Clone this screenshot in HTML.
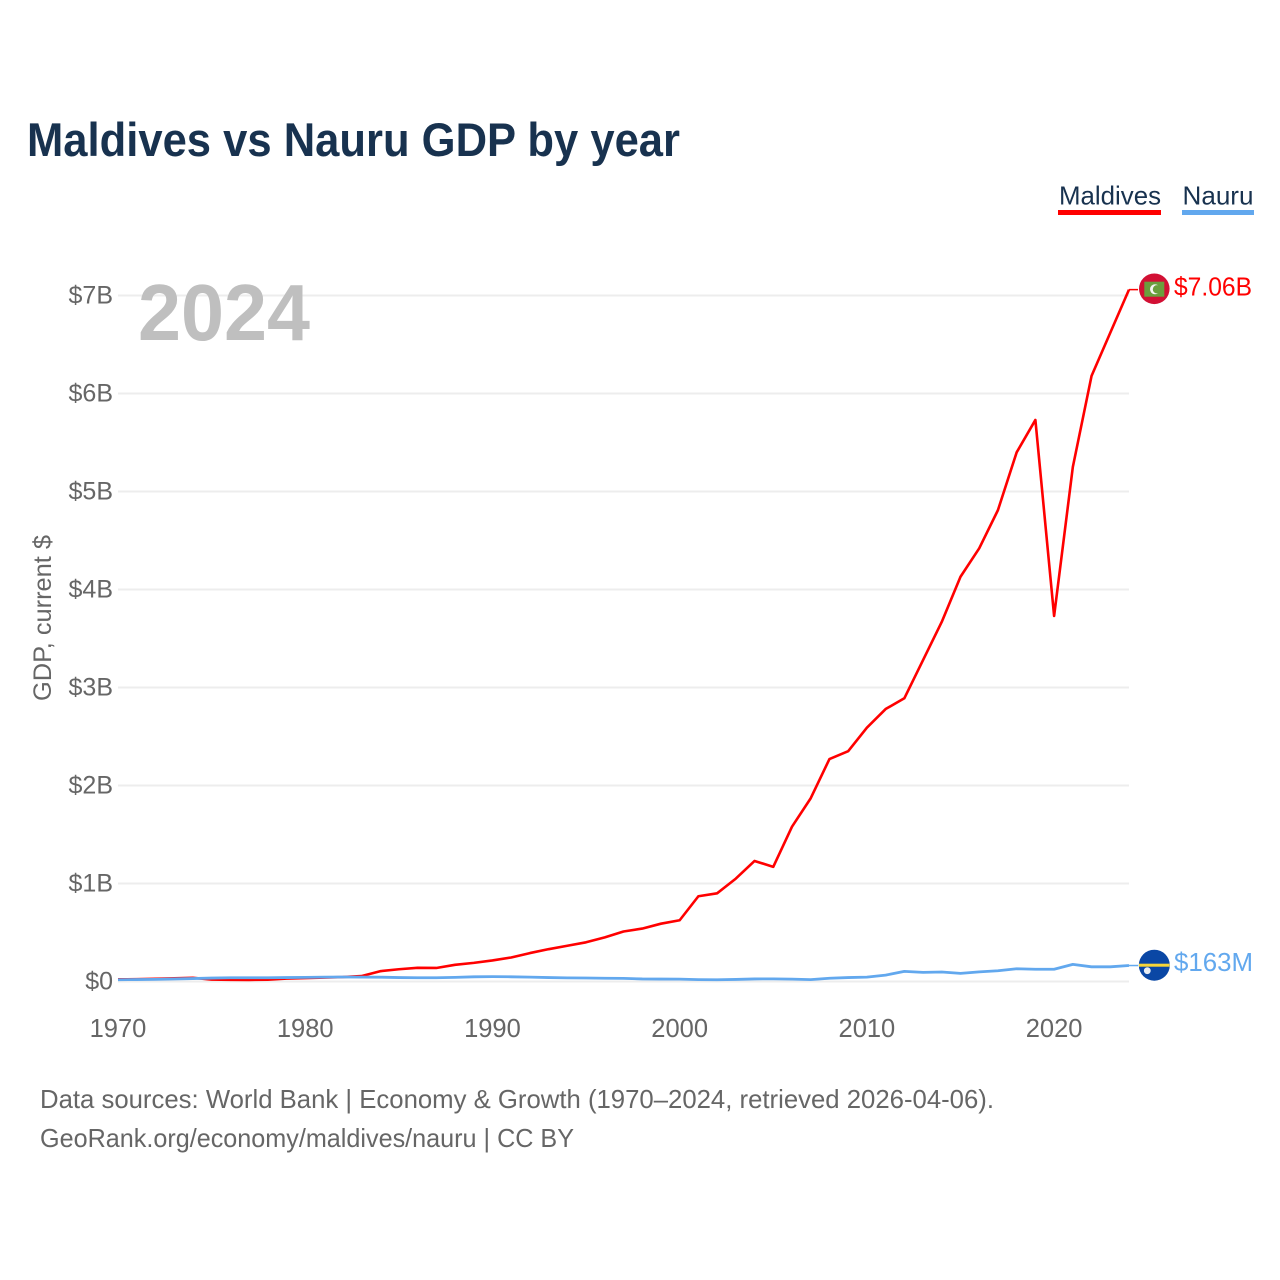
<!DOCTYPE html>
<html lang="en">
<head>
<meta charset="utf-8">
<title>Maldives vs Nauru GDP by year</title>
<style>
  html, body { margin: 0; padding: 0; background: #fff; }
  svg { display: block; font-family: "Liberation Sans", sans-serif; }
</style>
</head>
<body>
<svg id="chart" width="1280" height="1280" viewBox="0 0 1280 1280" xmlns="http://www.w3.org/2000/svg">
  <rect width="1280" height="1280" fill="#fff"/>
  <text x="27" y="156" font-size="47" font-weight="700" fill="#18324f" textLength="653" lengthAdjust="spacingAndGlyphs">Maldives vs Nauru GDP by year</text>

  <g id="grid"></g>
  <g id="y-ticks"></g>
  <g id="x-ticks"></g>

  <text x="138" y="340" font-size="80" font-weight="700" fill="#bfbfbf" textLength="172" lengthAdjust="spacingAndGlyphs">2024</text>
  <text transform="translate(51,618) rotate(-90)" text-anchor="middle" font-size="25" fill="#666" textLength="166" lengthAdjust="spacingAndGlyphs">GDP, current $</text>

  <polyline id="line-maldives" fill="none" stroke="#ff0000" stroke-width="2.6" stroke-linejoin="round"/>
  <polyline id="line-nauru" fill="none" stroke="#62a8ee" stroke-width="2.8" stroke-linejoin="round"/>
  <line id="conn-maldives" stroke="#ff0000" stroke-width="1.5"/>
  <line id="conn-nauru" stroke="#62a8ee" stroke-width="1.5"/>

  <g>
    <g>
      <text x="1059" y="204.5" font-size="26" fill="#18324f" textLength="102" lengthAdjust="spacingAndGlyphs">Maldives</text>
      <rect x="1058" y="210" width="103" height="5" fill="#ff0000"/>
    </g>
    <g>
      <text x="1182.5" y="204.5" font-size="26" fill="#18324f" textLength="71" lengthAdjust="spacingAndGlyphs">Nauru</text>
      <rect x="1182" y="210" width="72" height="5" fill="#62a8ee"/>
    </g>
  </g>

  <g>
    <circle cx="1154.3" cy="288.8" r="15.3" fill="#d21034"/>
    <rect x="1144.3" y="281.7" width="20" height="15" fill="#6a9f3d"/>
    <circle cx="1155" cy="289.3" r="5" fill="#f4f4f0"/>
    <circle cx="1157" cy="289.3" r="4.2" fill="#6a9f3d"/>
  </g>
  <g>
    <circle cx="1154.3" cy="965.2" r="15.5" fill="#0a47a5"/>
    <rect x="1139" y="963.7" width="30.6" height="3" fill="#f7d538"/>
    <circle cx="1147.3" cy="970.7" r="3.4" fill="#e8edf4"/>
  </g>

  <text x="1174" y="295.5" font-size="25.5" fill="#ff0000" textLength="78" lengthAdjust="spacingAndGlyphs">$7.06B</text>
  <text x="1174" y="971" font-size="25.5" fill="#62a8ee" textLength="79" lengthAdjust="spacingAndGlyphs">$163M</text>

  <text x="40" y="1108" font-size="26" fill="#666" textLength="954" lengthAdjust="spacingAndGlyphs">Data sources: World Bank | Economy &amp; Growth (1970–2024, retrieved 2026-04-06).</text>
  <text x="40" y="1147" font-size="26" fill="#666" textLength="534" lengthAdjust="spacingAndGlyphs">GeoRank.org/economy/maldives/nauru | CC BY</text>
</svg>
<script>
const firstYear = 1970;
const maldivesGdpB = [
  0.022, 0.024, 0.028, 0.032, 0.038, 0.020, 0.017, 0.016, 0.018, 0.030,
  0.035, 0.040, 0.045, 0.055, 0.105, 0.125, 0.140, 0.138, 0.170, 0.190,
  0.215, 0.245, 0.290, 0.330, 0.365, 0.400, 0.450, 0.510, 0.540, 0.590,
  0.625, 0.870, 0.900, 1.050, 1.230, 1.170, 1.580, 1.870, 2.270, 2.350,
  2.590, 2.780, 2.890, 3.280, 3.670, 4.130, 4.420, 4.810, 5.400, 5.730,
  3.730, 5.250, 6.180, 6.620, 7.060
];
const nauruGdpB = [
  0.018, 0.020, 0.022, 0.026, 0.030, 0.035, 0.038, 0.038, 0.038, 0.040,
  0.042, 0.045, 0.046, 0.045, 0.044, 0.040, 0.038, 0.038, 0.042, 0.048,
  0.050, 0.048, 0.045, 0.040, 0.037, 0.036, 0.033, 0.032, 0.026, 0.025,
  0.024, 0.019, 0.018, 0.021, 0.026, 0.027, 0.024, 0.019, 0.033, 0.040,
  0.045, 0.065, 0.103, 0.093, 0.097, 0.083, 0.098, 0.110, 0.130, 0.125,
  0.125, 0.175, 0.150, 0.150, 0.163
];
const yTickValues = [0, 1, 2, 3, 4, 5, 6, 7];
const yTickLabels = ['$0', '$1B', '$2B', '$3B', '$4B', '$5B', '$6B', '$7B'];
const xTickValues = [1970, 1980, 1990, 2000, 2010, 2020];

const NS = 'http://www.w3.org/2000/svg';
const xScale = function (year) { return 118 + (year - 1970) * (1129 - 118) / 54; };
const yScale = function (b) { return 981.5 - b * 98; };

const gridGroup = document.getElementById('grid');
const yGroup = document.getElementById('y-ticks');
const xGroup = document.getElementById('x-ticks');

yTickValues.forEach(function (v, i) {
  const ln = document.createElementNS(NS, 'line');
  ln.setAttribute('x1', xScale(1970));
  ln.setAttribute('x2', xScale(2024));
  ln.setAttribute('y1', yScale(v));
  ln.setAttribute('y2', yScale(v));
  ln.setAttribute('stroke', '#ededed');
  ln.setAttribute('stroke-width', '2');
  
  
  gridGroup.appendChild(ln);

  const t = document.createElementNS(NS, 'text');
  t.setAttribute('x', 113);
  t.setAttribute('y', yScale(v) + 8);
  t.setAttribute('text-anchor', 'end');
  t.setAttribute('font-size', '25');
  t.setAttribute('fill', '#666');
  
  
  t.textContent = yTickLabels[i];
  yGroup.appendChild(t);
});

xTickValues.forEach(function (year) {
  const t = document.createElementNS(NS, 'text');
  t.setAttribute('x', xScale(year));
  t.setAttribute('y', 1037);
  t.setAttribute('text-anchor', 'middle');
  t.setAttribute('font-size', '25.5');
  t.setAttribute('fill', '#666');
  
  
  t.textContent = String(year);
  xGroup.appendChild(t);
});

function toPoints(series) {
  return series.map(function (v, i) {
    return xScale(firstYear + i).toFixed(2) + ',' + yScale(v).toFixed(2);
  }).join(' ');
}
document.getElementById('line-maldives').setAttribute('points', toPoints(maldivesGdpB));
document.getElementById('line-nauru').setAttribute('points', toPoints(nauruGdpB));

function placeConnector(id, series) {
  const c = document.getElementById(id);
  const last = series[series.length - 1];
  c.setAttribute('x1', xScale(2024));
  c.setAttribute('x2', xScale(2024) + 9);
  c.setAttribute('y1', yScale(last));
  c.setAttribute('y2', yScale(last));
}
placeConnector('conn-maldives', maldivesGdpB);
placeConnector('conn-nauru', nauruGdpB);
</script>
</body>
</html>
